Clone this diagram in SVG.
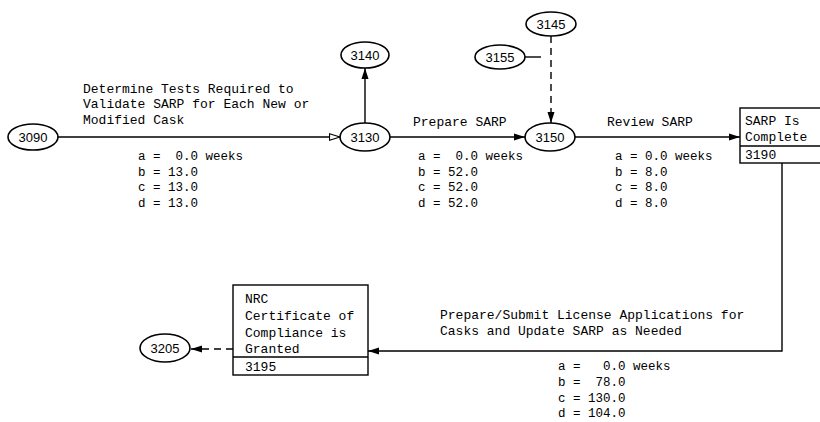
<svg xmlns="http://www.w3.org/2000/svg" width="820" height="422" viewBox="0 0 820 422">
<style>
.bg{fill:#fff}
.node ellipse{fill:#fff;stroke:#000;stroke-width:1.6}
.node rect{fill:#fff;stroke:#000;stroke-width:1.4}
.node line{stroke:#000;stroke-width:1.4}
.nl{font-family:"Liberation Sans",Arial,sans-serif;font-size:13px;fill:#000;text-anchor:middle}
.t{font-family:"Liberation Mono","Courier New",monospace;font-size:13px;fill:#000;white-space:pre}
.p{font-family:"Liberation Mono","Courier New",monospace;font-size:12.5px;fill:#000;white-space:pre}
.c{fill:none;stroke:#000;stroke-width:1.4}
.d{stroke-dasharray:7 5}
</style>
<defs>
<marker id="af" markerUnits="userSpaceOnUse" markerWidth="12" markerHeight="8" refX="11" refY="4" orient="auto">
<path d="M0,0.5 L11,4 L0,7.5 Z" fill="#000"/>
</marker>
<marker id="ah" markerUnits="userSpaceOnUse" markerWidth="12" markerHeight="8" refX="11" refY="4" orient="auto">
<path d="M0.5,0.8 L11,4 L0.5,7.2 Z" fill="#fff" stroke="#000" stroke-width="1.2"/>
</marker>
</defs>
<rect class="bg" x="0" y="0" width="820" height="422"/>

<g id="connectors">
<line class="c" x1="58" y1="137" x2="340" y2="137" marker-end="url(#ah)"/>
<line class="c" x1="365" y1="123" x2="365" y2="68" marker-end="url(#af)"/>
<line class="c" x1="390" y1="137" x2="525" y2="137" marker-end="url(#af)"/>
<line class="c d" x1="551" y1="36" x2="551" y2="123" marker-end="url(#af)"/>
<line class="c" x1="525" y1="57" x2="541" y2="57"/>
<line class="c" x1="575" y1="137" x2="740" y2="137" marker-end="url(#af)"/>
<polyline class="c" points="782,163 782,351 368,351" marker-end="url(#af)"/>
<line class="c d" x1="233" y1="349" x2="191" y2="349" marker-end="url(#af)"/>
</g>

<g id="n3090" class="node"><ellipse cx="33" cy="137" rx="25" ry="13"/><text class="nl" x="33" y="142">3090</text></g>
<g id="n3130" class="node"><ellipse cx="365" cy="137" rx="25" ry="14"/><text class="nl" x="365" y="142">3130</text></g>
<g id="n3140" class="node"><ellipse cx="365" cy="55" rx="24" ry="13"/><text class="nl" x="365" y="60">3140</text></g>
<g id="n3145" class="node"><ellipse cx="551" cy="24" rx="25" ry="12"/><text class="nl" x="551" y="29">3145</text></g>
<g id="n3155" class="node"><ellipse cx="500" cy="57" rx="25" ry="12"/><text class="nl" x="500" y="62">3155</text></g>
<g id="n3150" class="node"><ellipse cx="550" cy="137" rx="25" ry="14"/><text class="nl" x="550" y="142">3150</text></g>
<g id="n3190" class="node">
<rect x="740" y="108" width="90" height="55"/><line x1="740" y1="146" x2="830" y2="146"/>
<text class="t" x="745" y="125">SARP Is</text><text class="t" x="745" y="141">Complete</text><text class="t" x="745" y="159">3190</text>
</g>
<g id="n3195" class="node">
<rect x="233" y="285" width="135" height="90"/><line x1="233" y1="357" x2="368" y2="357"/>
<text class="t" x="245" y="303">NRC</text><text class="t" x="245" y="320">Certificate of</text><text class="t" x="245" y="337">Compliance is</text><text class="t" x="245" y="353">Granted</text><text class="t" x="245" y="371">3195</text>
</g>
<g id="n3205" class="node"><ellipse cx="165" cy="348" rx="25" ry="14"/><text class="nl" x="165" y="353">3205</text></g>

<g id="labels">
<text class="t" x="83" y="93">Determine Tests Required to</text>
<text class="t" x="83" y="108">Validate SARP for Each New or</text>
<text class="t" x="83" y="124">Modified Cask</text>
<text class="p" x="138" y="160">a =  0.0 weeks</text>
<text class="p" x="138" y="176">b = 13.0</text>
<text class="p" x="138" y="191">c = 13.0</text>
<text class="p" x="138" y="207">d = 13.0</text>

<text class="t" x="413" y="126">Prepare SARP</text>
<text class="p" x="418" y="160">a =  0.0 weeks</text>
<text class="p" x="418" y="176">b = 52.0</text>
<text class="p" x="418" y="191">c = 52.0</text>
<text class="p" x="418" y="207">d = 52.0</text>

<text class="t" x="607" y="126">Review SARP</text>
<text class="p" x="615" y="160">a = 0.0 weeks</text>
<text class="p" x="615" y="176">b = 8.0</text>
<text class="p" x="615" y="191">c = 8.0</text>
<text class="p" x="615" y="207">d = 8.0</text>

<text class="t" x="440" y="319">Prepare/Submit License Applications for</text>
<text class="t" x="440" y="335">Casks and Update SARP as Needed</text>
<text class="p" x="558" y="370">a =   0.0 weeks</text>
<text class="p" x="558" y="386">b =  78.0</text>
<text class="p" x="558" y="402">c = 130.0</text>
<text class="p" x="558" y="417">d = 104.0</text>
</g>
</svg>
